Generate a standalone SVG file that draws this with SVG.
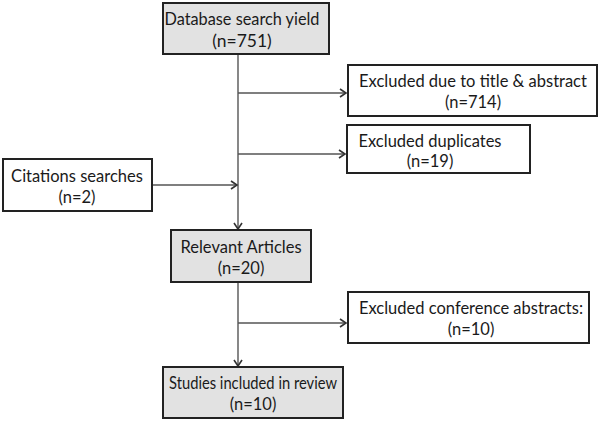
<svg xmlns="http://www.w3.org/2000/svg" width="600" height="422" viewBox="0 0 600 422">
<defs>
<marker id="arr" markerWidth="10" markerHeight="10" refX="8" refY="5" orient="auto" markerUnits="userSpaceOnUse">
<path d="M2,1 L8,5 L2,9" fill="none" stroke="#333" stroke-width="1.6"/>
</marker>
<style>
.box{stroke:#222;stroke-width:2}
.g{fill:#e2e2e2}
.w{fill:#fff}
text{font-family:Lato,"Open Sans","Liberation Sans",sans-serif;font-size:16.5px;fill:#1a1a1a;text-anchor:middle}
.big{font-size:17.5px}
.c line{stroke:#555;stroke-width:1.4}
</style>
</defs>
<rect width="600" height="422" fill="#fff"/>
<g class="c">
<line x1="238" y1="54" x2="238" y2="229" marker-end="url(#arr)"/>
<line x1="238" y1="93" x2="346" y2="93" marker-end="url(#arr)"/>
<line x1="238" y1="154" x2="345" y2="154" marker-end="url(#arr)"/>
<line x1="152" y1="185" x2="237" y2="185" marker-end="url(#arr)"/>
<line x1="238" y1="282" x2="238" y2="366" marker-end="url(#arr)"/>
<line x1="238" y1="323" x2="346" y2="323" marker-end="url(#arr)"/>
</g>
<g id="database">
<rect class="box g" x="163" y="3" width="166" height="51"/>
<text class="big" x="242" y="25" textLength="155" lengthAdjust="spacingAndGlyphs">Database search yield</text>
<text class="big" x="242" y="47">(n=751)</text>
</g>
<g id="excl-title">
<rect class="box w" x="348" y="65" width="249" height="51"/>
<text x="473" y="87">Excluded due to title &amp; abstract</text>
<text x="473" y="108">(n=714)</text>
</g>
<g id="excl-dup">
<rect class="box w" x="347" y="125" width="183" height="48"/>
<text x="430" y="147">Excluded duplicates</text>
<text x="430" y="167">(n=19)</text>
</g>
<g id="citations">
<rect class="box w" x="3" y="159" width="149" height="52"/>
<text x="77" y="182">Citations searches</text>
<text x="77" y="203">(n=2)</text>
</g>
<g id="relevant">
<rect class="box g" x="171" y="230" width="140" height="52"/>
<text x="241" y="253">Relevant Articles</text>
<text x="241" y="274">(n=20)</text>
</g>
<g id="excl-conf">
<rect class="box w" x="348" y="292" width="241" height="51"/>
<text x="471" y="314">Excluded conference abstracts:</text>
<text x="471" y="335">(n=10)</text>
</g>
<g id="studies">
<rect class="box g" x="163" y="367" width="180" height="51"/>
<text x="253" y="389" textLength="168" lengthAdjust="spacingAndGlyphs">Studies included in review</text>
<text x="253" y="410">(n=10)</text>
</g>
</svg>
